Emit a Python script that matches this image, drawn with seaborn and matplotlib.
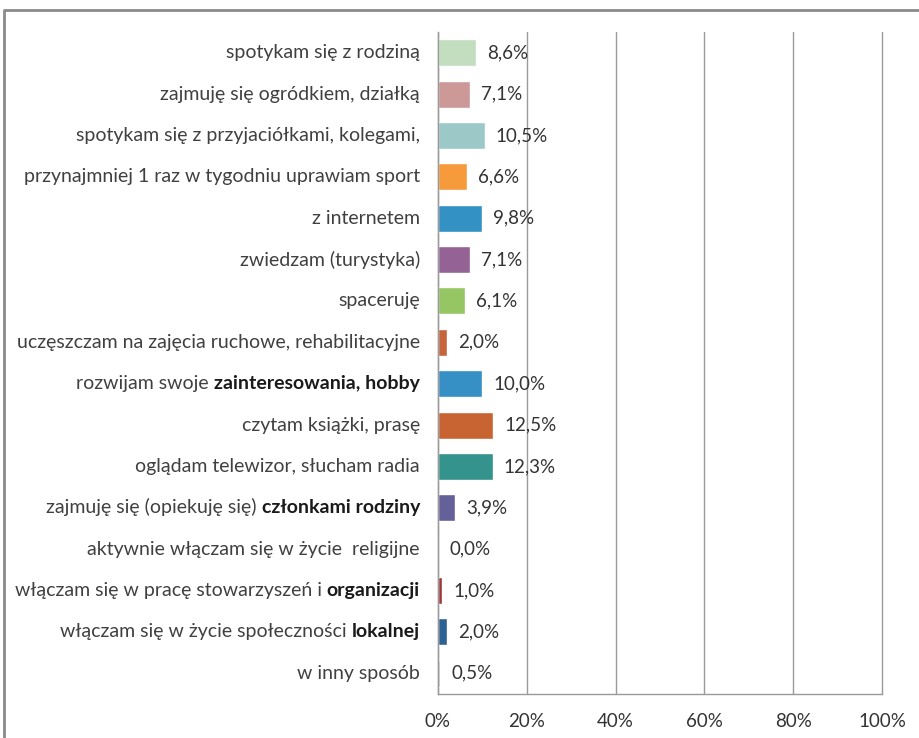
"""Horizontal bar chart: sposoby spędzania wolnego czasu"""

import seaborn as sns
import pandas as pd
import matplotlib.pyplot as plt
from matplotlib.lines import Line2D
from matplotlib.ticker import FuncFormatter

# label = normal part + bold part
LABELS_NORMAL = [
    "spotykam się z rodziną",
    "zajmuję się ogródkiem, działką",
    "spotykam się z przyjaciółkami, kolegami,",
    "przynajmniej 1 raz w tygodniu uprawiam sport",
    "z internetem",
    "zwiedzam (turystyka)",
    "spaceruję",
    "uczęszczam na zajęcia ruchowe, rehabilitacyjne",
    "rozwijam swoje ",
    "czytam książki, prasę",
    "oglądam telewizor, słucham radia",
    "zajmuję się (opiekuję się) ",
    "aktywnie włączam się w życie  religijne",
    "włączam się w pracę stowarzyszeń i ",
    "włączam się w życie społeczności ",
    "w inny sposób",
]
LABELS_BOLD = ["", "", "", "", "", "", "", "",
               "zainteresowania, hobby", "", "", "członkami rodziny",
               "", "organizacji", "lokalnej", ""]
VALUES = [8.6, 7.1, 10.5, 6.6, 9.8, 7.1, 6.1, 2.0,
          10.0, 12.5, 12.3, 3.9, 0.0, 1.0, 2.0, 0.5]
COLORS = ["#C3DDBF", "#CD9898", "#9CC8C8", "#F79A3C", "#3491C4", "#956295",
          "#96C664", "#C8643C", "#3690C6", "#C86432", "#34938C", "#63609A",
          "#A0A0A0", "#A03838", "#2E6194", "#BDBDBD"]

sns.set_style("white")
plt.rcParams['font.family'] = ['Lato', 'DejaVu Sans']

df = pd.DataFrame({"cat": [a + b for a, b in zip(LABELS_NORMAL, LABELS_BOLD)],
                   "val": VALUES})

fig = plt.figure(figsize=(9.2, 7.38), dpi=100)
ax = fig.add_axes([438 / 920, 1 - 694 / 738, 444 / 920, 662 / 738])

sns.barplot(data=df, y="cat", x="val", hue="cat", palette=COLORS,
            orient="h", width=0.65, legend=False, ax=ax, saturation=1)

ax.set_xlim(0, 100)
ax.set_ylim(15.5, -0.5)
ax.set_xticks(range(0, 101, 20))
ax.xaxis.set_major_formatter(FuncFormatter(lambda v, p: f"{v:.0f}%"))
ax.set_yticks([i - 0.5 for i in range(17)])
ax.set_yticklabels([])
ax.set_xlabel("")
ax.set_ylabel("")
ax.grid(axis="x", color="#9a9a9a", lw=1)
for gl in ax.get_xgridlines():
    gl.set_clip_on(False)
ax.set_axisbelow(True)
for s in ["top", "right"]:
    ax.spines[s].set_visible(False)
for s in ["left", "bottom"]:
    ax.spines[s].set_color("#9a9a9a")
    ax.spines[s].set_linewidth(1)
ax.tick_params(axis="y", length=6, color="#9a9a9a", width=1, direction="out")
ax.tick_params(axis="x", length=6, color="#9a9a9a", width=1, direction="out",
               labelsize=13.5, labelcolor="#333333", pad=8)

# category labels, with bold fragments
for i, (norm, bold) in enumerate(zip(LABELS_NORMAL, LABELS_BOLD)):
    if bold:
        bt = ax.annotate(bold, xy=(0, i), xytext=(-13, 0),
                         textcoords="offset points", ha="right", va="center",
                         fontsize=14, fontweight="bold", color="#1a1a1a")
        ax.annotate(norm, xy=(0, 0), xycoords=bt, ha="right", va="bottom",
                    fontsize=14, color="#404040")
    else:
        ax.annotate(norm, xy=(0, i), xytext=(-13, 0),
                    textcoords="offset points", ha="right", va="center",
                    fontsize=14, color="#404040")

# value labels
for i, v in enumerate(VALUES):
    ax.annotate(f"{v:.1f}%".replace(".", ","), xy=(v, i), xytext=(8, 0),
                textcoords="offset points", ha="left", va="center",
                fontsize=13.5, color="#333333")

# outer frame of the original chart
fig.add_artist(Line2D([4 / 920, 4 / 920, 1], [0, 1 - 10 / 738, 1 - 10 / 738],
                      transform=fig.transFigure, color="#8a8a8a", lw=2))

plt.savefig("out.png", dpi=100, facecolor="white")
plt.close()
